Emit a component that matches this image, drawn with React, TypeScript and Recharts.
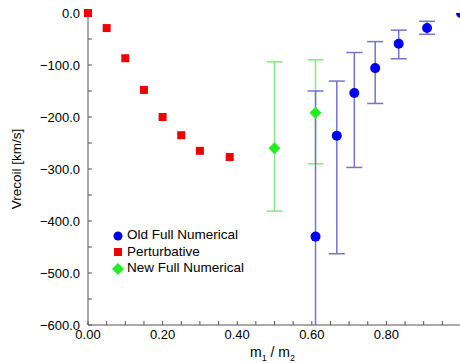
import { ScatterChart, Scatter, XAxis, YAxis, ErrorBar, Legend } from "recharts";

// order of the legend entries
const seriesNames = ["Old Full Numerical", "Perturbative", "New Full Numerical"];
const seriesColors = ["#0000f0", "#f00000", "#22ee22"];
const seriesIcons = ["circle", "square", "diamond"];

// Perturbative
const pertX = [0, 0.05, 0.1, 0.15, 0.2, 0.25, 0.3, 0.38];
const pertY = [0, -29, -87, -148, -200, -235, -265, -277];

// New Full Numerical (with error range)
const newX = [0.5, 0.61];
const newY = [-260, -192];
const newHigh = [-94, -90];
const newLow = [-381, -290];

// Old Full Numerical (with error range)
const oldX = [0.61, 0.667, 0.714, 0.77, 0.833, 0.909, 1.0];
const oldY = [-430, -236, -154, -106, -59, -29, 0];
const oldHigh: (number | null)[] = [-150, -131, -76, -55, -33, -16, null];
const oldLow: (number | null)[] = [-720, -463, -297, -174, -88, -41, null];

const xTicks = [0, 0.05, 0.1, 0.15, 0.2, 0.25, 0.3, 0.35, 0.4, 0.45, 0.5, 0.55, 0.6, 0.65, 0.7, 0.75, 0.8, 0.85, 0.9, 0.95, 1];
const yTicks = [-600, -550, -500, -450, -400, -350, -300, -250, -200, -150, -100, -50, 0];

const pertData = pertX.map((x, i) => ({ x, y: pertY[i] }));
const newData = newX.map((x, i) => ({
  x,
  y: newY[i],
  err: [newY[i] - newLow[i], newHigh[i] - newY[i]],
}));
const oldData = oldX.map((x, i) => ({
  x,
  y: oldY[i],
  err: oldHigh[i] == null ? null : [oldY[i] - (oldLow[i] as number), (oldHigh[i] as number) - oldY[i]],
}));

const FONT = "'Liberation Sans', Arial, Helvetica, sans-serif";
const AXIS = "#555";
const W = 463;
const H = 363;
const M = { top: 13, right: 2, bottom: 0, left: 0 };
const Y_W = 88;
const X_H = 38;

const fmtX = (v: number) => {
  const k = Math.round(v * 100);
  return k % 20 === 0 && k < 100 ? v.toFixed(2) : "";
};
const fmtY = (v: number) => {
  if (Math.round(v) % 100 !== 0) return "";
  return v < 0 ? "\u2212" + Math.abs(v).toFixed(1) : v.toFixed(1);
};
const blank = () => "";

const Dot = (p: any) => <circle cx={p.cx} cy={p.cy} r={5} fill={seriesColors[0]} />;
const Square = (p: any) => (
  <rect x={p.cx - 4} y={p.cy - 4} width={8} height={8} fill={seriesColors[1]} />
);
const Diamond = (p: any) => (
  <polygon
    points={`${p.cx},${p.cy - 6} ${p.cx + 6},${p.cy} ${p.cx},${p.cy + 6} ${p.cx - 6},${p.cy}`}
    fill={seriesColors[2]}
  />
);

function LegendIcon({ type, color }: { type: string; color: string }) {
  return (
    <svg width={12} height={12} style={{ display: "inline-block", verticalAlign: "middle", marginRight: 3 }}>
      {type === "circle" && <circle cx={6} cy={6} r={4.5} fill={color} />}
      {type === "square" && <rect x={2} y={2} width={8} height={8} fill={color} />}
      {type === "diamond" && <polygon points="6,0 12,6 6,12 0,6" fill={color} />}
    </svg>
  );
}

function LegendBox() {
  return (
    <ul style={{ listStyle: "none", margin: 0, padding: 0 }}>
      {seriesNames.map((name, i) => (
        <li key={name} style={{ height: 16.5, lineHeight: "16.5px", whiteSpace: "nowrap" }}>
          <LegendIcon type={seriesIcons[i]} color={seriesColors[i]} />
          <span style={{ color: "#000", verticalAlign: "middle", fontSize: 13.5 }}>{name}</span>
        </li>
      ))}
    </ul>
  );
}

const axisStyle = {
  axisLine: { stroke: AXIS },
  tickLine: { stroke: AXIS },
};

export default function App() {
  const plotX = M.left + Y_W;
  const plotY = M.top;
  const plotW = W - M.right - plotX;
  const plotH = H - M.bottom - X_H - plotY;
  return (
    <div
      style={{
        position: "absolute",
        left: 0,
        top: 0,
        width: 460,
        height: 363,
        overflow: "hidden",
        background: "#fff",
        fontFamily: FONT,
      }}
    >
      <ScatterChart width={W} height={H} margin={M}>
        <defs>
          <clipPath id="plot-clip">
            <rect x={plotX} y={plotY} width={plotW} height={plotH} />
          </clipPath>
        </defs>
        <XAxis
          dataKey="x"
          type="number"
          domain={[0, 1]}
          ticks={xTicks}
          allowDataOverflow
          height={X_H}
          tickSize={-4}
          tickMargin={9}
          tickFormatter={fmtX}
          tick={{ fill: "#000", fontSize: 13, fontFamily: FONT }}
          {...axisStyle}
          label={(p: any) => {
            const vb = p.viewBox;
            return (
              <text x={vb.x + vb.width / 2 - 2} y={357} textAnchor="middle" fontSize={14} fontFamily={FONT} fill="#000">
                m<tspan dy={4} fontSize={9}>1</tspan>
                <tspan dy={-4}> / m</tspan>
                <tspan dy={4} fontSize={9}>2</tspan>
              </text>
            );
          }}
        />
        <XAxis
          xAxisId="top"
          dataKey="x"
          orientation="top"
          type="number"
          domain={[0, 1]}
          ticks={xTicks}
          height={0}
          tickSize={-4}
          tickFormatter={blank}
          tick={{ fontSize: 1 }}
          {...axisStyle}
        />
        <YAxis
          dataKey="y"
          type="number"
          domain={[-600, 0]}
          ticks={yTicks}
          allowDataOverflow
          width={Y_W}
          tickSize={-4}
          tickMargin={12}
          tickFormatter={fmtY}
          tick={{ fill: "#000", fontSize: 13, fontFamily: FONT }}
          {...axisStyle}
          label={(p: any) => {
            const vb = p.viewBox;
            const cy = vb.y + vb.height / 2;
            return (
              <text
                x={16}
                y={cy}
                transform={`rotate(-90 16 ${cy})`}
                textAnchor="middle"
                dominantBaseline="central"
                fontSize={13.5}
                fontFamily={FONT}
                fill="#000"
              >
                Vrecoil [km/s]
              </text>
            );
          }}
        />
        <YAxis
          yAxisId="right"
          dataKey="y"
          orientation="right"
          type="number"
          domain={[-600, 0]}
          ticks={yTicks}
          width={0}
          tickSize={-4}
          tickFormatter={blank}
          tick={{ fontSize: 1 }}
          {...axisStyle}
        />
        <Legend
          layout="vertical"
          align="center"
          verticalAlign="middle"
          content={() => <LegendBox />}
          wrapperStyle={{ left: 112, top: 227, width: 180, fontSize: 13 }}
        />
        <Scatter
          name={seriesNames[1]}
          data={pertData}
          xAxisId="top"
          yAxisId="right"
          fill={seriesColors[1]}
          shape={Square}
          isAnimationActive={false}
        />
        <Scatter
          name={seriesNames[2]}
          data={newData}
          xAxisId="top"
          yAxisId="right"
          fill={seriesColors[2]}
          shape={Diamond}
          isAnimationActive={false}
        >
          <ErrorBar dataKey="err" direction="y" width={8} stroke="#88e488" strokeWidth={1.5} />
        </Scatter>
        <Scatter name={seriesNames[0]} data={oldData} fill={seriesColors[0]} shape={Dot} isAnimationActive={false}>
          <ErrorBar
            dataKey="err"
            direction="y"
            width={8}
            stroke="#7474cc"
            strokeWidth={1.5}
            clipPath="url(#plot-clip)"
          />
        </Scatter>
      </ScatterChart>
    </div>
  );
}
